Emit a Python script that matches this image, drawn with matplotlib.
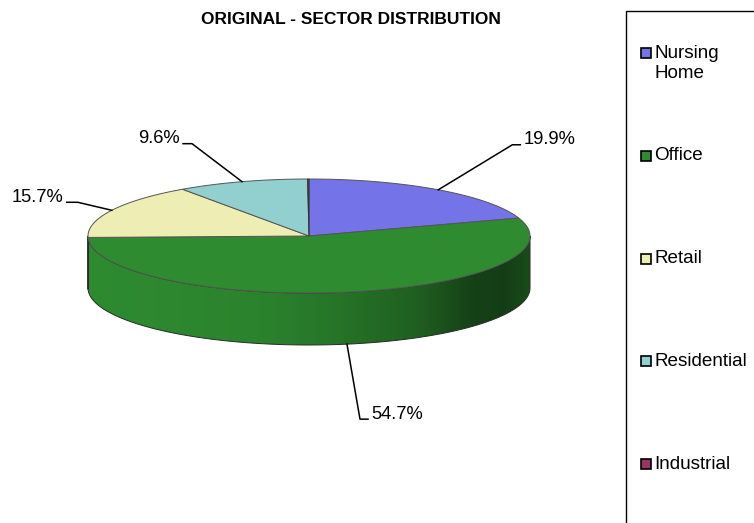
"""
3d style pie chart - sector distribution
"""

import numpy as np
from matplotlib import pyplot as plt
from matplotlib.patches import Polygon, Rectangle
from matplotlib.colors import to_rgb

sectors = ['Nursing Home', 'Office', 'Retail', 'Residential', 'Industrial']
legend_labels = ['Nursing\nHome', 'Office', 'Retail', 'Residential', 'Industrial']
shares = [19.9, 54.7, 15.7, 9.6, 0.1]
colors = ['#7474e8', '#2e8b30', '#ededb4', '#92cfcf', '#993366']

plt.rcParams['font.family'] = ['Liberation Sans', 'DejaVu Sans']

# pie geometry in pixels
cx, cy = 309, 236
rx, ry = 221, 57
depth = 52


def ellipse_pt(theta, drop=0.0):
    # theta in degrees, clockwise from 12 o'clock
    t = np.radians(theta)
    return cx + rx * np.sin(t), cy - ry * np.cos(t) + drop


def side_shade(x):
    # darkening of the side wall from left to right
    xs = [cx - rx, 250, 330, 420, 470, 505, cx + rx]
    fs = [1.0, 0.95, 0.85, 0.68, 0.48, 0.44, 0.55]
    return np.interp(x, xs, fs)


fig = plt.figure(figsize=(7.54, 5.23), dpi=100)
ax = fig.add_axes([0, 0, 1, 1])
ax.set_xlim(0, 754)
ax.set_ylim(523, 0)
ax.axis('off')

total = sum(shares)
bounds = np.concatenate([[0], np.cumsum(shares)]) / total * 360

# side walls (front half only)
for i in range(len(shares)):
    a0 = max(bounds[i], 90)
    a1 = min(bounds[i + 1], 270)
    if a1 <= a0:
        continue
    th = np.linspace(a0, a1, 200)
    top = [ellipse_pt(t) for t in th]
    bot = [ellipse_pt(t, depth) for t in th[::-1]]
    poly = Polygon(top + bot, closed=True, fc='none', ec='#2a2a2a', lw=0.7, zorder=2)
    ax.add_patch(poly)
    xg = np.linspace(cx - rx, cx + rx, 400)
    base = np.array(to_rgb(colors[i]))
    img = np.clip(side_shade(xg)[:, None] * base[None, :], 0, 1)[None, :, :]
    im = ax.imshow(img, extent=(cx - rx, cx + rx, cy + ry + depth + 2, cy - 5),
                   aspect='auto', zorder=1, interpolation='bilinear')
    im.set_clip_path(poly)

# top faces
for i in range(len(shares)):
    th = np.linspace(bounds[i], bounds[i + 1], max(int(shares[i] * 4), 3))
    pts = [(cx, cy)] + [ellipse_pt(t) for t in th]
    ec = '#333333' if i == 4 else '#555555'
    ax.add_patch(Polygon(pts, closed=True, fc=colors[i], ec=ec, lw=0.7, zorder=3))

# data labels with leader lines
elbows = [(74, -45, 8), (13, 75, 8), (-34, -8, -11), (-50, -38, -9)]
for i in range(4):
    mid = (bounds[i] + bounds[i + 1]) / 2
    drop = depth if 90 < mid < 270 else 0
    x0, y0 = ellipse_pt(mid, drop)
    dx, dy, stub = elbows[i]
    x1, y1 = x0 + dx, y0 + dy
    x2 = x1 + stub
    ax.plot([x0, x1, x2], [y0, y1, y1], color='black', lw=1.1, zorder=4)
    ha = 'left' if stub > 0 else 'right'
    ax.text(x2 + (3 if stub > 0 else -3), y1 - 5, '%.1f%%' % shares[i],
            ha=ha, va='center', fontsize=13.2, zorder=5)

ax.text(351, 20, 'ORIGINAL - SECTOR DISTRIBUTION', ha='center', va='center',
        fontsize=12.5, fontweight='bold')

# legend box
ax.add_patch(Rectangle((626, 11), 200, 600, fc='white', ec='black', lw=1.0,
                       clip_on=True, zorder=1))
for i, lab in enumerate(legend_labels):
    y = 53 + i * 102.8
    ax.add_patch(Rectangle((641, y - 5), 10, 10, fc=colors[i], ec='black',
                           lw=1.2, zorder=5))
    for k, line in enumerate(lab.split('\n')):
        ax.text(654, y + k * 20, line, ha='left', va='center', fontsize=13.6,
                zorder=5)

fig.savefig('out.png', dpi=100)
